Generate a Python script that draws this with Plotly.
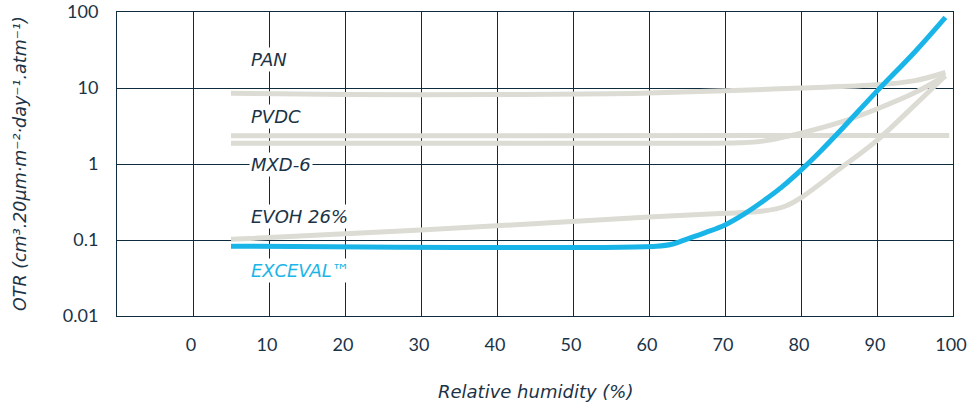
import math
import plotly.graph_objects as go

# ---- data ----
rh_pan = [5, 20, 40, 55, 60, 70, 80, 90, 95, 99]
otr_pan = [8.5, 8.2, 8.2, 8.4, 8.6, 9.2, 10.0, 11.0, 12.5, 16.0]

rh_pvdc = [5, 99.5]
otr_pvdc = [2.35, 2.38]

rh_mxd = [5, 60, 72, 75, 80, 85, 90, 95, 99]
otr_mxd = [1.88, 1.88, 1.9, 2.0, 2.55, 3.5, 5.3, 8.7, 14.5]

rh_evoh = [5, 30, 60, 70, 75, 78, 80, 85, 90, 95, 99]
otr_evoh = [0.102, 0.135, 0.2, 0.225, 0.24, 0.28, 0.36, 0.85, 2.05, 6.0, 14.5]

rh_exceval = [5, 61, 63, 65, 67.5, 70, 72.5, 75, 77.5, 80, 82.5, 85, 87.5, 90, 95, 99]
otr_exceval = [0.083, 0.083, 0.088, 0.103, 0.126, 0.158, 0.219, 0.324, 0.50, 0.83,
               1.45, 2.63, 4.9, 9.1, 30, 85]

x_ticks = [0, 10, 20, 30, 40, 50, 60, 70, 80, 90, 100]
y_ticks = [0.01, 0.1, 1, 10, 100]
y_ticktext = ["0.01", "0.1", "1", "10", "100"]

labels = ["PAN", "PVDC", "MXD-6", "EVOH 26%", "EXCEVAL™"]
label_y = [23.9, 4.28, 1.0, 0.203, 0.0403]
label_x = 7.4

NAVY = "#0f2b3e"
TEXT = "#1b3346"
GRAY = "#dcdcd4"
BLUE = "#1ab5e8"
FONT = "DejaVu Sans"
TICKFONT = "Lato"

fig = go.Figure()
series = [
    (rh_pan, otr_pan, GRAY),
    (rh_pvdc, otr_pvdc, GRAY),
    (rh_mxd, otr_mxd, GRAY),
    (rh_evoh, otr_evoh, GRAY),
    (rh_exceval, otr_exceval, BLUE),
]
for xs, ys, col in series:
    fig.add_trace(go.Scatter(
        x=xs, y=ys, mode="lines",
        line=dict(color=col, width=5, shape="spline", smoothing=1.0),
        showlegend=False, hoverinfo="skip",
    ))

for txt, yv in zip(labels, label_y):
    fig.add_annotation(
        x=label_x, y=math.log10(yv), xref="x", yref="y", yanchor="middle", xanchor="left",
        text="<i>%s</i>" % txt, showarrow=False,
        font=dict(family=FONT, size=18, color=BLUE if "EXCEVAL" in txt else TEXT),
        bgcolor="white", borderpad=1,
    )

fig.add_annotation(
    x=0.5, y=-0.247, xref="paper", yref="paper", xanchor="center", yanchor="middle",
    text="<i>Relative humidity (%)</i>", showarrow=False,
    font=dict(family=FONT, size=18, color=TEXT),
)
fig.add_annotation(
    x=-0.116, y=0.5, xref="paper", yref="paper", xanchor="center", yanchor="middle",
    text="<i>OTR (cm³.20μm·m⁻²·day⁻¹.atm⁻¹)</i>", showarrow=False, textangle=-90,
    font=dict(family=FONT, size=17.5, color=TEXT),
)

fig.update_xaxes(
    range=[-10, 100], tickvals=x_ticks, showgrid=True, gridcolor=NAVY, gridwidth=1,
    zeroline=False, showline=True, linecolor=NAVY, linewidth=1, mirror=True,
    ticks="", ticklabelstandoff=12, ticklabelshift=-2, ticklabeloverflow="allow",
    automargin=False, tickfont=dict(family=TICKFONT, size=18, color=TEXT),
)
fig.update_yaxes(
    type="log", range=[-2, 2], tickvals=y_ticks, ticktext=y_ticktext,
    showgrid=True, gridcolor=NAVY, gridwidth=1,
    zeroline=False, showline=True, linecolor=NAVY, linewidth=1, mirror=True,
    ticks="", ticklabelstandoff=14, ticklabeloverflow="allow", automargin=False,
    tickfont=dict(family=TICKFONT, size=18, color=TEXT),
)
fig.update_layout(
    width=967, height=403,
    margin=dict(l=117, r=14, t=12, b=87, autoexpand=False),
    paper_bgcolor="white", plot_bgcolor="white",
    font=dict(family=FONT, color=TEXT),
)
fig.write_html(
    "out.html",
    config={"displayModeBar": False},
    post_script="document.body.style.margin='0';document.body.style.overflow='hidden';",
)
